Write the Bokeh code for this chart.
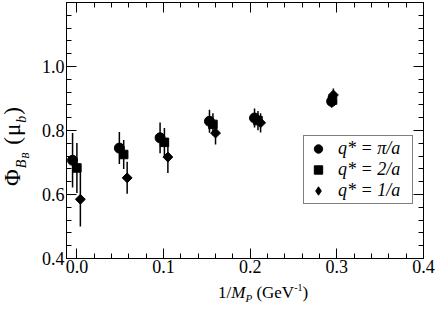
import numpy as np
from bokeh.plotting import figure
from bokeh.layouts import row, column
from bokeh.models import (Legend, LegendItem, FixedTicker, LinearAxis,
                          Range1d, ColumnDataSource, Div, CDSView, IndexFilter)
from bokeh.embed import file_html
from bokeh.resources import INLINE

# ---- data ----
x_pi = [-0.005, 0.049, 0.096, 0.153, 0.205, 0.294]
y_pi = [0.707, 0.745, 0.777, 0.829, 0.839, 0.891]
e_pi = [0.085, 0.050, 0.048, 0.036, 0.030, 0.020]

x_2 = [0.000, 0.054, 0.101, 0.157, 0.209, 0.295]
y_2 = [0.683, 0.725, 0.763, 0.819, 0.831, 0.895]
e_2 = [0.078, 0.045, 0.045, 0.035, 0.030, 0.020]

x_1 = [0.004, 0.058, 0.105, 0.160, 0.212, 0.296]
y_1 = [0.585, 0.652, 0.717, 0.792, 0.824, 0.911]
e_1 = [0.085, 0.050, 0.050, 0.036, 0.030, 0.020]

series_labels = ["q* = π/a", "q* = 2/a", "q* = 1/a"]

x_ticks = [0.0, 0.1, 0.2, 0.3, 0.4]
x_tick_labels = ["0.0", "0.1", "0.2", "0.3", "0.4"]
y_ticks = [0.4, 0.6, 0.8, 1.0]
y_tick_labels = ["0.4", "0.6", "0.8", "1.0"]
x_minor = [round(v, 2) for v in np.arange(0.0, 0.4001, 0.02)]
y_minor = [round(v, 2) for v in np.arange(0.4, 1.2001, 0.04)]

SERIF = "Liberation Serif"

p = figure(width=402, height=282,
           x_range=Range1d(-0.012, 0.4), y_range=Range1d(0.4, 1.2),
           output_backend="svg", toolbar_location=None,
           min_border_left=32, min_border_right=13,
           min_border_top=2, min_border_bottom=24)
p.xgrid.visible = False
p.ygrid.visible = False
p.outline_line_color = "black"
p.background_fill_color = "white"
p.border_fill_color = "white"

bottom_ax = p.below[0]
left_ax = p.left[0]

xt = FixedTicker(ticks=x_ticks, minor_ticks=x_minor)
yt = FixedTicker(ticks=y_ticks, minor_ticks=y_minor)
bottom_ax.ticker = xt
left_ax.ticker = yt

top_ax = LinearAxis(ticker=xt)
right_ax = LinearAxis(ticker=yt)
p.add_layout(top_ax, "above")
p.add_layout(right_ax, "right")

for ax in [bottom_ax, left_ax, top_ax, right_ax]:
    ax.major_tick_in = 10
    ax.major_tick_out = 0
    ax.minor_tick_in = 5
    ax.minor_tick_out = 0
    ax.axis_line_color = "black"
    ax.major_tick_line_color = "black"
    ax.minor_tick_line_color = "black"
    ax.major_label_text_font = SERIF
    ax.major_label_text_font_size = "18px"
    ax.major_label_text_color = "black"
    ax.axis_label = None

bottom_ax.major_label_overrides = dict(zip(x_ticks, x_tick_labels))
left_ax.major_label_overrides = dict(zip(y_ticks, y_tick_labels))
bottom_ax.major_label_standoff = 1
left_ax.major_label_standoff = 2
top_ax.major_label_overrides = {t: "" for t in x_ticks}
right_ax.major_label_overrides = {t: "" for t in y_ticks}
for ax in [top_ax, right_ax]:
    ax.major_label_text_font_size = "0px"
    ax.major_label_standoff = 0

# ---- error bars + markers ----
renderers = []
sources = []
specs = [(x_pi, y_pi, e_pi, "circle", 10, 0.0),
         (x_2, y_2, e_2, "square", 8.5, 0.0),
         (x_1, y_1, e_1, "square", 7, np.pi / 4)]
for xs, ys, es, mk, sz, ang in specs:
    src = ColumnDataSource(dict(x=xs, y=ys,
                                lo=[a - b for a, b in zip(ys, es)],
                                hi=[a + b for a, b in zip(ys, es)]))
    p.segment(x0="x", y0="lo", x1="x", y1="hi", source=src,
              line_color="black", line_width=1.5)
    r = p.scatter(x="x", y="y", source=src, marker=mk, size=sz, angle=ang,
                  fill_color="black", line_color="black")
    renderers.append(r)
    sources.append(src)

# legend key for the diamonds (the legend ignores marker angle): it shares
# the diamond series' data, showing one small diamond hidden inside a
# data marker, so the legend has a glyph to draw
diamond_key = p.scatter(x="x", y="y", source=sources[2],
                        view=CDSView(filter=IndexFilter(indices=[0])),
                        marker="diamond", size=5,
                        fill_color="black", line_color="black")
legend_renderers = [renderers[0], renderers[1], diamond_key]

legend = Legend(items=[LegendItem(label=lab, renderers=[r])
                       for lab, r in zip(series_labels, legend_renderers)],
                location=(237, 54), orientation="vertical",
                padding=2, spacing=0, margin=0,
                label_height=21, glyph_height=21, glyph_width=24,
                label_standoff=8, label_width=72,
                label_text_font=SERIF, label_text_font_style="italic",
                label_text_font_size="18px", label_text_color="black",
                border_line_color="black", border_line_width=1,
                background_fill_alpha=1.0)
p.add_layout(legend)

# ---- axis titles as HTML text (with sub/superscripts) ----
sub = "position:relative;top:{}px;font-size:{}px"
x_title_html = (
    '<div style="padding-left:184px;padding-top:2px;white-space:nowrap;'
    f"font-family:'{SERIF}';font-size:17px;line-height:17px;color:black\">"
    '1/<i>M</i>'
    f'<span style="{sub.format(4, 11)}"><i>P</i></span>'
    '&nbsp;(GeV'
    f'<span style="{sub.format(-7, 10)}">-1</span>)'
    '</div>')
y_title_html = (
    '<div style="padding-top:186px">'
    '<div style="width:0;height:0;transform-origin:0 0;'
    'transform:rotate(-90deg);white-space:nowrap;letter-spacing:1px;'
    f"font-family:'{SERIF}';font-size:23px;line-height:26px;color:black\">"
    'Φ'
    f'<span style="{sub.format(6, 14)}"><i>B</i>'
    f'<span style="{sub.format(3, 10)}"><i>B</i></span></span>'
    '&nbsp;(μ'
    f'<span style="{sub.format(6, 14)}"><i>b</i></span>)'
    '</div></div>')

x_title = Div(text=x_title_html, width=402, height=33, margin=0)
y_title = Div(text=y_title_html, width=34, height=315, margin=0)

layout = row(y_title, column(p, x_title, spacing=0), spacing=0)

open("out.html", "w").write(file_html(layout, INLINE))
